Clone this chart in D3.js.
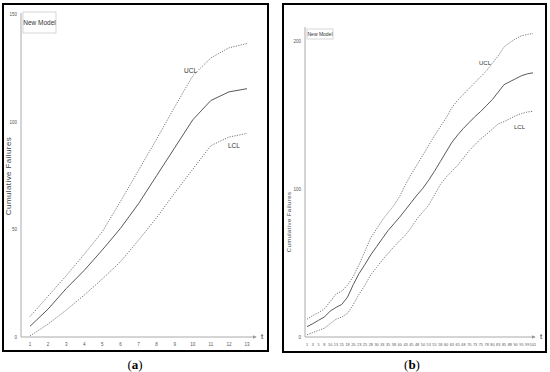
<!DOCTYPE html>
<html>
<head>
<meta charset="utf-8">
<script src="https://cdn.jsdelivr.net/npm/d3@7"></script>
<style>
  body { margin: 0; background: #fff; }
  text { font-family: "Liberation Sans Narrow", "Liberation Sans", Arial, sans-serif; }
</style>
</head>
<body>
<div id="chart"></div>
<script>
// panel (a): t = 1..13
const tA = [1, 2, 3, 4, 5, 6, 7, 8, 9, 10, 11, 12, 13];
const meanA = [5, 13, 22.5, 31, 40.5, 50.5, 62, 75, 88, 101, 110, 114, 115.5];
const uclA = [9.5, 19, 28.5, 38.5, 49, 63, 77.5, 92, 107, 121.5, 129.8, 134.5, 136.5];
const lclA = [0.5, 6, 12.5, 19.5, 27, 35, 45, 55.5, 67, 78, 89, 93, 94.7];
const yTicksA = [0, 50, 100, 150];

// panel (b)
const tB = [1, 3, 5, 8, 10, 13, 15, 18, 20, 23, 25, 28, 30, 33, 35, 38, 40, 43, 45, 48,
  50, 53, 55, 58, 60, 63, 65, 68, 70, 73, 75, 78, 80, 83, 85, 88, 90, 95, 99, 101];
const meanB = [7, 9, 11.3, 13.5, 17.5, 20, 22, 27, 35.5, 43, 49, 55.5, 61, 66.5, 72, 76.5, 81, 86, 91, 96,
  100.5, 106, 112, 118.5, 125, 131.5, 136.5, 141, 145, 149, 152.5, 156.5, 160.5, 165.5, 170.5, 172.5, 174.5, 176.5, 177.8, 178.5];
const uclB = [12, 14.5, 16.5, 19, 24, 29, 31, 35, 41, 49, 58, 67, 73, 79, 84, 89, 95, 103, 110, 116.5,
  123, 129.5, 136, 142, 148, 155, 160, 164, 168, 172, 176, 180, 185, 190, 196, 199, 201.5, 203.5, 204.5, 205];
const lclB = [1.5, 3, 4.5, 6, 9, 12, 13.5, 16, 22, 29, 35, 42, 47, 52, 56.5, 61, 65, 69, 74, 80,
  84.5, 89, 96, 103, 108, 112, 116, 121, 126, 130, 134, 137, 140.5, 144, 145.5, 147.5, 149.5, 151, 152, 152.5];
const yTicksB = [0, 100, 200];

const width = 550;
const height = 372;

const svg = d3.select("#chart").append("svg")
  .attr("width", width)
  .attr("height", height)
  .style("display", "block");

svg.append("defs").append("marker")
  .attr("id", "arrow")
  .attr("viewBox", "0 0 6 6")
  .attr("refX", 5).attr("refY", 3)
  .attr("markerWidth", 4).attr("markerHeight", 4)
  .attr("orient", "auto")
  .append("path")
  .attr("d", "M0,0L6,3L0,6Z")
  .attr("fill", "#999");

function drawPanel(cfg) {
  const g = svg.append("g");

  // frame
  g.append("rect")
    .attr("x", cfg.frame[0]).attr("y", cfg.frame[1])
    .attr("width", cfg.frame[2] - cfg.frame[0])
    .attr("height", cfg.frame[3] - cfg.frame[1])
    .attr("fill", "#fff")
    .attr("stroke", "#000")
    .attr("stroke-width", 2);

  const x = cfg.x;
  const y = cfg.y;

  // axes
  g.append("line")
    .attr("x1", cfg.axisX).attr("x2", cfg.axisX)
    .attr("y1", y(0)).attr("y2", cfg.axisTop)
    .attr("stroke", "#aaa").attr("stroke-width", 1);
  g.append("line")
    .attr("x1", cfg.axisX).attr("x2", cfg.axisRight)
    .attr("y1", y(0)).attr("y2", y(0))
    .attr("stroke", "#aaa").attr("stroke-width", 1)
    .attr("marker-end", "url(#arrow)");
  g.append("text")
    .attr("x", cfg.axisRight + 5).attr("y", y(0) + 2)
    .attr("font-size", 8).attr("fill", "#333")
    .text("t");

  g.selectAll("text.ytick").data(cfg.yTicks).join("text")
    .attr("class", "ytick")
    .attr("x", cfg.axisX - 4)
    .attr("y", d => y(d) + 1.5)
    .attr("text-anchor", "end")
    .attr("font-size", 4.5)
    .attr("fill", "#555")
    .text(d => d);

  g.selectAll("text.xtick").data(cfg.xTicks).join("text")
    .attr("class", "xtick")
    .attr("x", d => x(d))
    .attr("y", y(0) + 9)
    .attr("text-anchor", "middle")
    .attr("font-size", cfg.xTickSize)
    .attr("fill", "#555")
    .text(d => d);

  g.append("text")
    .attr("transform", `translate(${cfg.titleX},${cfg.titleY}) rotate(-90)`)
    .attr("text-anchor", "middle")
    .attr("font-size", cfg.titleSize)
    .attr("fill", "#444")
    .attr("letter-spacing", 0.4)
    .style("font-family", "'Liberation Sans', Arial, sans-serif")
    .text("Cumulative Failures");

  // legend box
  const lb = cfg.legend;
  g.append("rect")
    .attr("x", lb[0]).attr("y", lb[1])
    .attr("width", lb[2]).attr("height", lb[3])
    .attr("fill", "#fff").attr("stroke", "#ccc").attr("stroke-width", 0.8);
  g.append("text")
    .attr("x", lb[0] + lb[2] / 2).attr("y", lb[1] + lb[3] / 2 + lb[4] * 0.35)
    .attr("text-anchor", "middle")
    .attr("font-size", lb[4]).attr("fill", "#333")
    .text("New Model");

  const line = d3.line()
    .x((d, i) => x(cfg.xs[i]))
    .y(d => y(d));

  g.append("path").datum(cfg.ucl)
    .attr("d", line).attr("fill", "none")
    .attr("stroke", "#666").attr("stroke-width", 0.9)
    .attr("stroke-dasharray", "1.2,1.3");
  g.append("path").datum(cfg.lcl)
    .attr("d", line).attr("fill", "none")
    .attr("stroke", "#666").attr("stroke-width", 0.9)
    .attr("stroke-dasharray", "1.2,1.3");
  g.append("path").datum(cfg.mean)
    .attr("d", line).attr("fill", "none")
    .attr("stroke", "#595959").attr("stroke-width", 1);

  g.append("text")
    .attr("x", cfg.uclLabel[0]).attr("y", cfg.uclLabel[1])
    .attr("font-size", cfg.limSize).attr("fill", "#333")
    .text("UCL");
  g.append("text")
    .attr("x", cfg.lclLabel[0]).attr("y", cfg.lclLabel[1])
    .attr("font-size", cfg.limSize).attr("fill", "#333")
    .text("LCL");

  const cap = g.append("text")
    .attr("x", cfg.capX).attr("y", 369)
    .attr("text-anchor", "middle")
    .attr("font-size", 13)
    .attr("fill", "#000")
    .style("font-family", "'Liberation Serif', 'DejaVu Serif', serif");
  cap.append("tspan").text("(");
  cap.append("tspan").attr("font-weight", "bold").text(cfg.cap);
  cap.append("tspan").text(")");
}

drawPanel({
  frame: [3, 4, 268, 351],
  x: d3.scaleLinear().domain([1, 13]).range([30, 247]),
  y: d3.scaleLinear().domain([0, 150]).range([337, 14.5]),
  xs: tA,
  xTicks: tA,
  yTicks: yTicksA,
  xTickSize: 4.5,
  axisX: 21, axisTop: 13, axisRight: 256,
  titleX: 11, titleY: 176, titleSize: 8,
  legend: [23, 12, 33, 21, 6.5],
  mean: meanA, ucl: uclA, lcl: lclA,
  uclLabel: [184, 73], lclLabel: [228, 148], limSize: 6.5,
  capX: 135, cap: "a"
});

drawPanel({
  frame: [283, 4, 546, 352],
  x: d3.scalePoint().domain(tB).range([307, 533]),
  y: d3.scaleLinear().domain([0, 200]).range([337, 41]),
  xs: tB,
  xTicks: tB,
  yTicks: yTicksB,
  xTickSize: 3.8,
  axisX: 305, axisTop: 27, axisRight: 535,
  titleX: 291, titleY: 222, titleSize: 6,
  legend: [307, 29, 26, 10, 5],
  mean: meanB, ucl: uclB, lcl: lclB,
  uclLabel: [479, 65], lclLabel: [514, 129], limSize: 6,
  capX: 412, cap: "b"
});
</script>
</body>
</html>
